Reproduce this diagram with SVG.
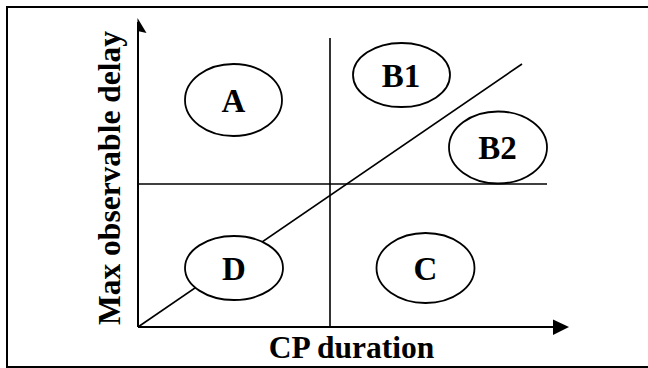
<svg xmlns="http://www.w3.org/2000/svg" width="648" height="368" viewBox="0 0 648 368">
<style>
.ax{stroke:#000;stroke-width:2;fill:none}
.ln{stroke:#000;stroke-width:1.6;fill:none}
.el{stroke:#000;stroke-width:1.8;fill:#fff}
.t{font-family:"Liberation Serif","Times New Roman",serif;font-weight:bold;fill:#000}
.lbl{font-size:33px;text-anchor:middle}
.ax-t{font-size:31.5px;text-anchor:middle}
</style>
<rect x="7" y="7" width="643" height="360" fill="#fff" stroke="#000" stroke-width="2"/>
<g id="connectors">
<line class="ln" x1="330" y1="38" x2="330" y2="327"/>
<line class="ln" x1="138" y1="184" x2="547" y2="184"/>
<line class="ln" x1="138" y1="327" x2="522" y2="64"/>
<line class="ax" x1="138" y1="327" x2="138" y2="22"/>
<polygon points="137.5,18 146.5,33 137.5,31" fill="#000"/>
<line class="ax" x1="138" y1="327" x2="556" y2="327"/>
<polygon points="569,327 553,319.5 553,335" fill="#000"/>
</g>
<g id="A"><ellipse class="el" cx="233.5" cy="100" rx="48.5" ry="36"/><text class="t lbl" x="233.5" y="112">A</text></g>
<g id="B1"><ellipse class="el" cx="401.5" cy="75" rx="48.5" ry="32"/><text class="t lbl" x="401" y="87">B1</text></g>
<g id="B2"><ellipse class="el" cx="498" cy="147.5" rx="49" ry="36"/><text class="t lbl" x="497.5" y="159">B2</text></g>
<g id="C"><ellipse class="el" cx="425.5" cy="268" rx="49" ry="35"/><text class="t lbl" x="425.5" y="280">C</text></g>
<g id="D"><ellipse class="el" cx="234" cy="268" rx="49" ry="32"/><text class="t lbl" x="234" y="280">D</text></g>
<g id="x-label"><text class="t ax-t" x="351.5" y="358">CP duration</text></g>
<g id="y-label"><text class="t ax-t" transform="translate(120,178) rotate(-90)">Max observable delay</text></g>
</svg>
